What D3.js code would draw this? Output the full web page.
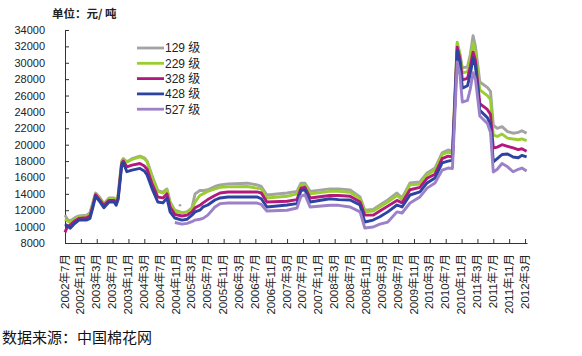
<!DOCTYPE html>
<html><head><meta charset="utf-8">
<script src="https://cdn.jsdelivr.net/npm/d3@7/dist/d3.min.js"></script>
<style>body{margin:0;background:#fff}svg{display:block}</style>
</head><body><svg id="c" width="582" height="356"></svg>
<script>
// months since 2002-07
const monthIdx = [0,0.6,1.3,2.5,3.5,5.5,6.3,7.0,7.7,8.7,9.8,11.1,12.4,12.9,13.4,14.3,14.7,15.6,16.9,18.9,20.0,20.7,21.9,23.4,24.7,25.7,26.5,27.7,29.5,30.8,32.0,32.8,34.0,34.8,36.0,37.8,39.1,41.1,46.0,48.4,49.5,50.9,56.0,58.5,59.5,60.5,61.8,66.8,69.0,71.9,74.4,75.6,77.7,79.4,81.4,83.7,85.0,87.0,89.5,91.3,93.3,95.1,96.6,97.7,98.9,99.6,100.2,101.5,102.2,102.9,103.5,104.6,106.5,107.3,108.0,109.0,110.2,111.6,113.0,114.3,115.2,116.4];
const grade129 = [11400,10900,10700,11100,11300,11400,11700,12900,14100,13600,12800,13500,13500,13100,13900,18000,18300,17900,18300,18600,18400,18000,16300,14400,14200,14600,13000,12000,11700,11800,12300,14000,14400,14400,14500,14900,15100,15200,15300,15100,14900,13860,14100,14300,15300,15300,14300,14600,14600,14470,13620,12000,12100,12640,13250,14100,13500,15330,15450,16550,17150,19000,19350,19200,32300,31000,29370,29500,31000,33300,32000,27650,27000,26500,22400,22000,22200,21600,21400,21500,21700,21400];
const grade229 = [10900,10700,10500,10900,11200,11300,11500,12700,14000,13500,12700,13400,13400,13000,13800,17900,18200,17900,18200,18500,18300,17900,16100,14300,14100,14500,12900,11900,11700,11800,12200,13000,13800,14000,14300,14600,14800,14850,14900,14700,14600,13500,13700,14000,15100,15100,14000,14300,14300,14200,13400,11800,11900,12400,13000,13800,13300,15100,15200,16300,16900,18800,19100,18900,32500,31000,28760,28900,30500,32400,31300,26700,26000,25500,21200,21000,21300,20800,20700,20600,20700,20500];
const grade328 = [9300,10000,10200,10700,11000,11100,11300,12500,13900,13300,12600,13200,13200,12900,13500,17700,18000,17300,17500,17700,17400,17000,15300,13600,13500,14000,12400,11500,11300,11400,11800,12300,12600,12900,13300,13800,14100,14230,14230,14230,14100,13000,13100,13300,14700,14800,13500,13800,13800,13700,13000,11400,11400,11900,12500,13200,12900,14500,14800,15900,16400,18300,18600,18500,31900,30500,27900,28100,29500,31300,30300,25000,24300,23700,19600,19700,20000,19800,19600,19400,19500,19200];
const grade428 = [10300,10100,9800,10400,10800,10800,11000,12300,13700,13100,12300,13000,13000,12600,13300,17500,17800,16700,16900,17100,16800,16300,14700,13000,12900,13500,11800,11050,10800,10900,11400,11800,12000,12400,12640,13250,13500,13620,13620,13620,13400,12400,12640,12800,14400,14500,13000,13400,13300,13250,12640,10560,10800,11200,11800,12640,12400,13860,14230,15330,15930,17770,18000,18100,31500,30000,26900,27200,28600,30600,29600,24200,23300,22500,17900,18300,18800,18870,18500,18400,18700,18500];
const grade527 = [null,null,null,null,null,null,null,null,null,null,null,null,null,null,null,null,null,null,null,null,null,null,null,null,null,null,null,10500,10300,10400,10600,10800,10900,11000,11400,12400,12800,12880,12880,12880,12700,11900,12000,12270,13700,13900,12400,12600,12600,12400,11800,9830,9950,10300,10560,11800,11660,12880,13620,14700,15330,16900,17150,17100,30100,28500,25200,25400,26800,28800,28000,23500,22600,21500,16670,17000,17700,17300,16700,17000,17150,16800];
const lonePoint129 = [[29.0, 12600]];
const seriesNames = ["129 级","229 级","328 级","428 级","527 级"];
const seriesColors = ["#a3a3a3","#9acd32","#b3197c","#2c43a0","#9c80c8"];
const tickMonths = d3.range(0, 117, 4);
const tickLabels = ["2002年7月","2002年11月","2003年3月","2003年7月","2003年11月","2004年3月","2004年7月","2004年11月","2005年3月","2005年7月","2005年11月","2006年3月","2006年7月","2006年11月","2007年3月","2007年7月","2007年11月","2008年3月","2008年7月","2008年11月","2009年3月","2009年7月","2009年11月","2010年3月","2010年7月","2010年11月","2011年3月","2011年7月","2011年11月","2012年3月"];
const yTicks = d3.range(8000, 34001, 2000);
const unitLabel = "单位：元/ 吨";
const sourceLabel = "数据来源：中国棉花网";

const svg = d3.select("#c");
const x = d3.scaleLinear().domain([0, 116.5]).range([65, 527]);
const y = d3.scaleLinear().domain([8000, 34000]).range([243, 30]);
const latin = "'Liberation Sans', Arial, 'Noto Sans CJK SC', sans-serif";

// axes
const yAxis = svg.append("g").attr("transform", "translate(65,0)")
  .call(d3.axisLeft(y).tickValues(yTicks).tickSizeInner(-4).tickSizeOuter(0).tickPadding(20).tickFormat(d3.format("d")));
yAxis.selectAll("text").attr("font-size", 11).attr("font-family", latin).attr("fill", "#222");
yAxis.selectAll("line,path").attr("stroke", "#333");

const xAxis = svg.append("g").attr("transform", "translate(0,243)")
  .call(d3.axisBottom(x).tickValues(tickMonths).tickSizeInner(-4).tickSizeOuter(0).tickFormat((d, i) => tickLabels[i]));
xAxis.selectAll("line,path").attr("stroke", "#333");
xAxis.selectAll("text")
  .attr("font-size", 11.5).attr("font-family", latin).attr("fill", "#222")
  .attr("text-anchor", "end").attr("dy", "0.35em")
  .attr("transform", "translate(-1,11) rotate(-90)")
  .attr("x", 0).attr("y", 0);

// lines
const allSeries = [grade129, grade229, grade328, grade428, grade527];
const line = d3.line().defined(d => d[1] != null).x(d => x(d[0])).y(d => y(d[1]));
allSeries.forEach((vals, i) => {
  svg.append("path")
    .datum(monthIdx.map((m, j) => [m, vals[j]]))
    .attr("fill", "none").attr("stroke", seriesColors[i]).attr("stroke-width", 2.9)
    .attr("stroke-linejoin", "round").attr("d", line);
});
svg.selectAll(".lone").data(lonePoint129).join("circle")
  .attr("cx", d => x(d[0])).attr("cy", d => y(d[1])).attr("r", 1.3).attr("fill", seriesColors[0]);

// legend
const leg = svg.append("g");
seriesNames.forEach((n, i) => {
  const yy = 48 + i * 15.3;
  leg.append("line").attr("x1", 137).attr("x2", 164).attr("y1", yy).attr("y2", yy)
    .attr("stroke", seriesColors[i]).attr("stroke-width", 2.8);
  leg.append("text").attr("x", 165).attr("y", yy).attr("dy", "0.36em")
    .attr("font-size", 12).attr("font-family", latin).attr("fill", "#222").text(n);
});

svg.append("text").attr("x", 52).attr("y", 18).attr("font-size", 11.5).attr("font-weight", "bold")
  .attr("font-family", "'Noto Sans CJK SC', sans-serif").attr("fill", "#222").text(unitLabel);
svg.append("text").attr("x", 2).attr("y", 343).attr("font-size", 15)
  .attr("font-family", "'Noto Sans CJK SC', sans-serif").attr("fill", "#111").text(sourceLabel);
</script></body></html>
